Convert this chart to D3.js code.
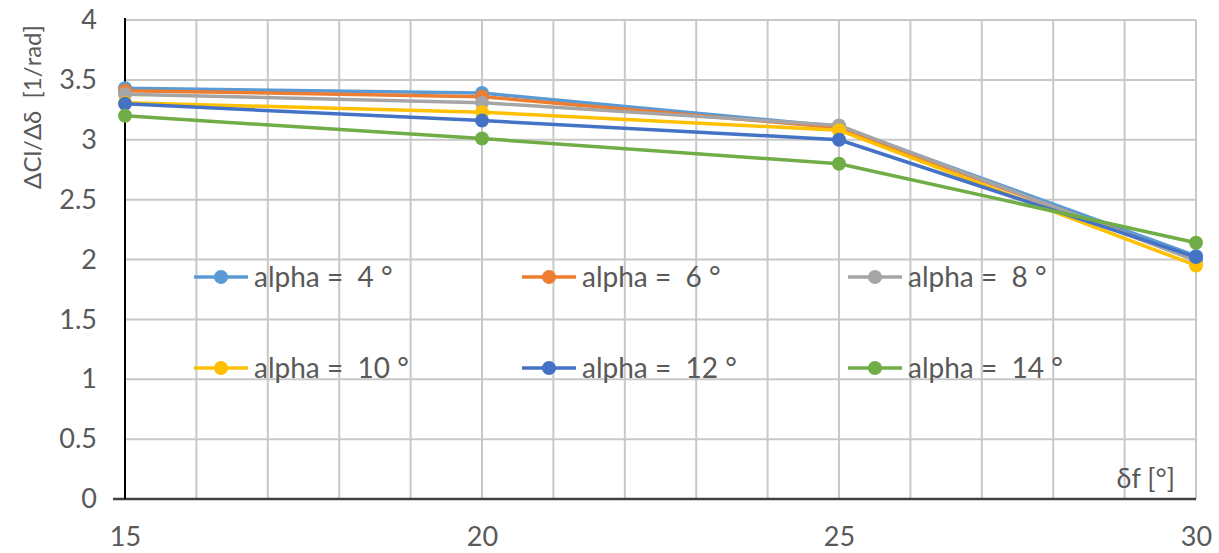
<!DOCTYPE html>
<html>
<head>
<meta charset="utf-8">
<script src="https://cdn.jsdelivr.net/npm/d3@7"></script>
<style>
  body { margin: 0; background: #fff; }
  text { font-family: Lato, "Open Sans", sans-serif; fill: #595959; white-space: pre; }
</style>
</head>
<body>
<div id="chart-area"></div>
<script>
const flapAngles = [15, 20, 25, 30];
const seriesNames = ["alpha =  4 °", "alpha =  6 °", "alpha =  8 °", "alpha =  10 °", "alpha =  12 °", "alpha =  14 °"];
const seriesColors = ["#5B9BD5", "#ED7D31", "#A5A5A5", "#FFC000", "#4472C4", "#70AD47"];
const alpha4 = [3.43, 3.39, 3.11, 2.03];
const alpha6 = [3.41, 3.36, 3.10, 2.00];
const alpha8 = [3.38, 3.31, 3.12, 1.99];
const alpha10 = [3.31, 3.23, 3.08, 1.95];
const alpha12 = [3.30, 3.16, 3.00, 2.02];
const alpha14 = [3.20, 3.01, 2.80, 2.14];
const yTicks = [0, 0.5, 1, 1.5, 2, 2.5, 3, 3.5, 4];
const xTicks = [15, 20, 25, 30];

const drawChart = () => {
  const chartSize = { width: 1219, height: 553 };
  const margin = { left: 125, right: 23, top: 20, bottom: 54 };
  const width = chartSize.width - (margin.left + margin.right);
  const height = chartSize.height - (margin.top + margin.bottom);
  const fontSize = "27px";

  const x = d3.scaleLinear().domain([15, 30]).range([0, width]);
  const y = d3.scaleLinear().domain([0, 4]).range([height, 0]);

  const svg = d3.select("#chart-area")
    .append("svg")
    .attr("width", chartSize.width)
    .attr("height", chartSize.height);

  const g = svg.append("g")
    .attr("transform", `translate(${margin.left}, ${margin.top})`);

  // grid
  g.append("g").selectAll("line").data(d3.range(16, 31))
    .enter().append("line")
    .attr("x1", d => x(d)).attr("x2", d => x(d))
    .attr("y1", 0).attr("y2", height)
    .attr("stroke", "#c8c8c8").attr("stroke-width", 2);

  g.append("g").selectAll("line").data(yTicks.slice(1))
    .enter().append("line")
    .attr("x1", 0).attr("x2", width)
    .attr("y1", d => y(d)).attr("y2", d => y(d))
    .attr("stroke", "#c8c8c8").attr("stroke-width", 2);

  // axes
  const yAxis = d3.axisLeft(y).tickValues(yTicks).tickSize(0).tickPadding(28).tickFormat(d => d);
  const yG = g.append("g").call(yAxis);
  yG.select(".domain").remove();
  yG.selectAll("text").style("font-size", fontSize).attr("fill", "#595959");

  const xAxis = d3.axisBottom(x).tickValues(xTicks).tickSize(0).tickPadding(28);
  const xG = g.append("g").attr("transform", `translate(0, ${height})`).call(xAxis);
  xG.select(".domain").remove();
  xG.selectAll("text").style("font-size", fontSize).attr("fill", "#595959");

  g.append("line")
    .attr("x1", -12).attr("x2", width)
    .attr("y1", height).attr("y2", height)
    .attr("stroke", "#404040").attr("stroke-width", 2.5);
  g.append("line")
    .attr("x1", 0).attr("x2", 0)
    .attr("y1", -2).attr("y2", height)
    .attr("stroke", "#000").attr("stroke-width", 2);

  // axis titles
  g.append("text")
    .attr("transform", "translate(-84, 87) rotate(-90)")
    .attr("text-anchor", "middle")
    .style("font-size", "24px")
    .text("ΔCl/Δδ  [1/rad]");

  g.append("text")
    .attr("x", width - 21).attr("y", height - 11)
    .attr("text-anchor", "end")
    .style("font-size", fontSize)
    .text("δf [°]");

  // series
  const allSeries = [alpha4, alpha6, alpha8, alpha10, alpha12, alpha14];
  const line = d3.line().x((d, i) => x(flapAngles[i])).y(d => y(d));

  allSeries.forEach((values, s) => {
    g.append("path")
      .datum(values)
      .attr("d", line)
      .attr("fill", "none")
      .attr("stroke", seriesColors[s])
      .attr("stroke-width", 3.5)
      .attr("stroke-linejoin", "round");
    g.selectAll(null).data(values)
      .enter().append("circle")
      .attr("cx", (d, i) => x(flapAngles[i]))
      .attr("cy", d => y(d))
      .attr("r", 7)
      .attr("fill", seriesColors[s]);
  });

  // legend
  const legendX = [69, 397, 723];
  const legendY = [257, 348];
  seriesNames.forEach((name, s) => {
    const lx = legendX[s % 3];
    const ly = legendY[Math.floor(s / 3)];
    const lg = g.append("g").attr("transform", `translate(${lx}, ${ly})`);
    lg.append("line")
      .attr("x1", 0).attr("x2", 54).attr("y1", 0).attr("y2", 0)
      .attr("stroke", seriesColors[s]).attr("stroke-width", 3.5);
    lg.append("circle").attr("cx", 27).attr("cy", 0).attr("r", 7)
      .attr("fill", seriesColors[s]);
    lg.append("text")
      .attr("x", 60).attr("y", 10)
      .style("font-size", "28px")
      .text(name);
  });
};

window.onload = drawChart;
</script>
</body>
</html>
